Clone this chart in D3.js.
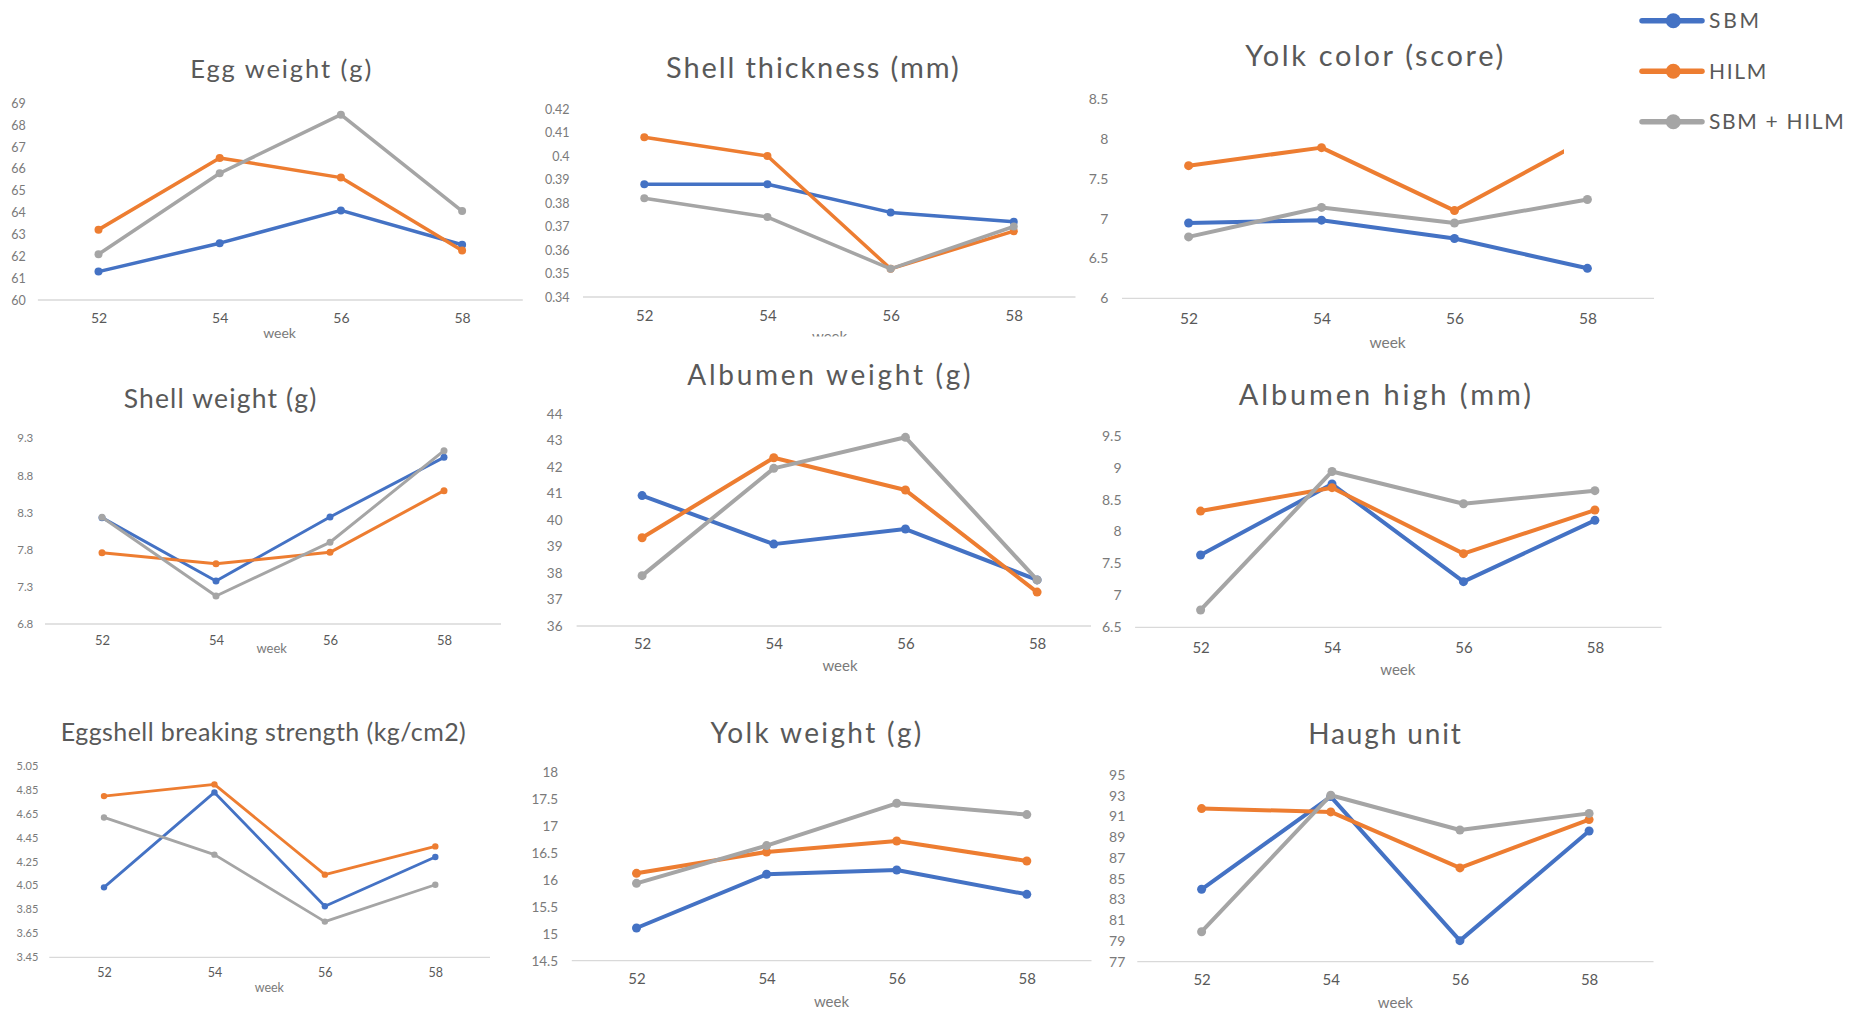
<!DOCTYPE html>
<html>
<head>
<meta charset="utf-8">
<script src="https://cdnjs.cloudflare.com/ajax/libs/d3/7.8.5/d3.min.js"></script>
<style>
  html, body { margin: 0; padding: 0; background: #fff; }
  svg { display: block; font-family: Lato, "Open Sans", sans-serif; }
</style>
</head>
<body>
<svg id="chart" width="1867" height="1013"></svg>
<script>
// ---------- DATA ----------
const weeks = ["52", "54", "56", "58"];
const seriesNames = ["SBM", "HILM", "SBM + HILM"];
const seriesColors = ["#4472C4", "#ED7D31", "#A5A5A5"];
const xAxisTitle = "week";

const titles = [
  "Egg weight (g)", "Shell thickness (mm)", "Yolk color (score)",
  "Shell weight (g)", "Albumen weight (g)", "Albumen high (mm)",
  "Eggshell breaking strength (kg/cm2)", "Yolk weight (g)", "Haugh unit"
];

// each: [SBM, HILM, SBM + HILM]
const eggWeight = [
  [61.3, 62.6, 64.1, 62.53],
  [63.22, 66.5, 65.6, 62.26],
  [62.09, 65.8, 68.48, 64.07]
];
const shellThickness = [
  [0.388, 0.388, 0.376, 0.372],
  [0.408, 0.400, 0.352, 0.368],
  [0.382, 0.374, 0.352, 0.370]
];
const yolkColor = [
  [6.945, 6.98, 6.75, 6.376],
  [7.664, 7.89, 7.10, 8.0],
  [6.77, 7.14, 6.945, 7.24]
];
const shellWeight = [
  [8.232, 7.379, 8.241, 9.044],
  [7.76, 7.612, 7.765, 8.595],
  [8.236, 7.177, 7.90, 9.134]
];
const albumenWeight = [
  [40.92, 39.09, 39.66, 37.74],
  [39.33, 42.35, 41.13, 37.28],
  [37.9, 41.95, 43.12, 37.74]
];
const albumenHigh = [
  [7.632, 8.743, 7.215, 8.175],
  [8.32, 8.686, 7.653, 8.336],
  [6.771, 8.94, 8.435, 8.639]
];
const breakingStrength = [
  [4.034, 4.827, 3.876, 4.287],
  [4.796, 4.894, 4.14, 4.376],
  [4.618, 4.307, 3.748, 4.056]
];
const yolkWeight = [
  [15.107, 16.105, 16.185, 15.733],
  [16.123, 16.52, 16.724, 16.353],
  [15.937, 16.638, 17.424, 17.214]
];
const haughUnit = [
  [83.98, 92.92, 79.03, 89.6],
  [91.76, 91.44, 86.04, 90.7],
  [79.89, 93.05, 89.7, 91.3]
];

// y tick values
const eggWeightTicks = [60, 61, 62, 63, 64, 65, 66, 67, 68, 69];
const shellThicknessTicks = [0.34, 0.35, 0.36, 0.37, 0.38, 0.39, 0.4, 0.41, 0.42];
const yolkColorTicks = [6, 6.5, 7, 7.5, 8, 8.5];
const shellWeightTicks = [6.8, 7.3, 7.8, 8.3, 8.8, 9.3];
const albumenWeightTicks = [36, 37, 38, 39, 40, 41, 42, 43, 44];
const albumenHighTicks = [6.5, 7, 7.5, 8, 8.5, 9, 9.5];
const breakingStrengthTicks = [3.45, 3.65, 3.85, 4.05, 4.25, 4.45, 4.65, 4.85, 5.05];
const yolkWeightTicks = [14.5, 15, 15.5, 16, 16.5, 17, 17.5, 18];
const haughUnitTicks = [77, 79, 81, 83, 85, 87, 89, 91, 93, 95];

const panelData = [eggWeight, shellThickness, yolkColor, shellWeight, albumenWeight,
                   albumenHigh, breakingStrength, yolkWeight, haughUnit];
const panelTicks = [eggWeightTicks, shellThicknessTicks, yolkColorTicks, shellWeightTicks,
                    albumenWeightTicks, albumenHighTicks, breakingStrengthTicks,
                    yolkWeightTicks, haughUnitTicks];

// ---------- LAYOUT (positions / sizes) ----------
const layout = [
  {x52:98.5, x58:462.1, bx0:37.9, bx1:522.8, yTop:103.3, yBot:300, labelRight:25.8, tickFs:12.5, xTickY:323.3, xTickFs:14, titleX:280.7, titleY:77.7, titleFs:25.5, titleW:181, weekX:279.6, weekY:337.7, weekFs:14, lw:3.5, r:4},
  {x52:644.3, x58:1013.8, bx0:583, bx1:1075.5, yTop:109, yBot:297, labelRight:569.6, tickFs:12.5, xTickY:321, xTickFs:15, titleX:812.4, titleY:78.3, titleFs:29, titleW:292.7, weekX:829.6, weekY:341.5, weekFs:15, weekClip:336.5, lw:3.5, r:4},
  {x52:1188.6, x58:1587.4, bx0:1122, bx1:1654, yTop:99, yBot:298.3, labelRight:1108.3, tickFs:14, xTickY:324, xTickFs:15.5, titleX:1374.2, titleY:66, titleFs:29, titleW:258, weekX:1387.6, weekY:348.3, weekFs:15.5, lw:4, r:4.5},
  {x52:102, x58:444, bx0:45, bx1:501, yTop:438.3, yBot:624, labelRight:33.3, tickFs:11.5, xTickY:645, xTickFs:13, titleX:220, titleY:408.3, titleFs:26.5, titleW:192.7, weekX:271.7, weekY:653.3, weekFs:13, lw:3, r:3.5},
  {x52:642.1, x58:1037.1, bx0:576.6, bx1:1091, yTop:414, yBot:626, labelRight:562.5, tickFs:13.5, xTickY:649.3, xTickFs:15, titleX:828.9, titleY:385, titleFs:28, titleW:283.3, weekX:840, weekY:671, weekFs:15, lw:4, r:4.5},
  {x52:1200.6, x58:1594.9, bx0:1135.1, bx1:1661.5, yTop:435.7, yBot:627.3, labelRight:1121.5, tickFs:14, xTickY:652.7, xTickFs:15, titleX:1384.8, titleY:405, titleFs:29, titleW:292.2, weekX:1397.8, weekY:675, weekFs:15, lw:4, r:4.5},
  {x52:104, x58:435.3, bx0:49.3, bx1:490, yTop:765.7, yBot:957.3, labelRight:38.3, tickFs:11, xTickY:976.7, xTickFs:12.5, titleX:263.3, titleY:740.7, titleFs:25, titleW:405, weekX:269.3, weekY:991.7, weekFs:12.5, lw:2.8, r:3.2},
  {x52:636.5, x58:1026.8, bx0:571.8, bx1:1091.5, yTop:772.3, yBot:960.7, labelRight:558.1, tickFs:13.5, xTickY:984, xTickFs:15, titleX:815.9, titleY:742.7, titleFs:28, titleW:210.8, weekX:831.5, weekY:1006.7, weekFs:15, lw:4, r:4.5},
  {x52:1201.6, x58:1589.1, bx0:1137.3, bx1:1653.5, yTop:775, yBot:961.7, labelRight:1125.3, tickFs:14, xTickY:985.3, xTickFs:15, titleX:1384.5, titleY:744, titleFs:28, titleW:152.7, weekX:1395.4, weekY:1008.3, weekFs:15, lw:4, r:4.5}
];
const legendTextW = [50, 57.3, 134.7];

const svg = d3.select("#chart");
const defs = svg.append("defs");

panelData.forEach((series, i) => {
  const L = layout[i];
  const ticks = panelTicks[i];
  const g = svg.append("g");

  const x = d3.scalePoint().domain(weeks).range([L.x52, L.x58]);
  const y = d3.scaleLinear().domain([ticks[0], ticks[ticks.length - 1]]).range([L.yBot, L.yTop]);

  // title
  g.append("text")
    .attr("x", L.titleX).attr("y", L.titleY)
    .attr("text-anchor", "middle")
    .attr("font-size", L.titleFs)
    .attr("fill", "#595959")
    .attr("textLength", L.titleW)
    .attr("lengthAdjust", "spacing")
    .text(titles[i]);

  // baseline
  g.append("line")
    .attr("x1", L.bx0).attr("x2", L.bx1)
    .attr("y1", y(ticks[0])).attr("y2", y(ticks[0]))
    .attr("stroke", "#d9d9d9").attr("stroke-width", 1.3);

  // y axis labels
  const ya = g.append("g")
    .attr("transform", `translate(${L.labelRight},0)`)
    .call(d3.axisLeft(y).tickValues(ticks).tickSize(0).tickPadding(0).tickFormat(d => String(d)));
  ya.select(".domain").remove();
  ya.selectAll("text").attr("font-size", L.tickFs).attr("fill", "#7a7a7a")
    .attr("font-family", "Lato, sans-serif");

  // x axis labels
  const xa = g.append("g")
    .attr("transform", `translate(0,${L.xTickY})`)
    .call(d3.axisBottom(x).tickSize(0).tickPadding(0));
  xa.select(".domain").remove();
  xa.selectAll("text").attr("y", 0).attr("dy", null)
    .attr("font-size", L.xTickFs).attr("fill", "#595959")
    .attr("font-family", "Lato, sans-serif");

  // week label
  const wk = g.append("text")
    .attr("x", L.weekX).attr("y", L.weekY)
    .attr("text-anchor", "middle")
    .attr("font-size", L.weekFs)
    .attr("fill", "#7a7a7a")
    .text(xAxisTitle);
  if (L.weekClip) {
    defs.append("clipPath").attr("id", "wclip" + i)
      .append("rect").attr("x", 0).attr("y", 0).attr("width", 1867).attr("height", L.weekClip);
    wk.attr("clip-path", `url(#wclip${i})`);
  }

  // series
  const line = d3.line().x((d, k) => x(weeks[k])).y(d => y(d));
  series.forEach((vals, s) => {
    g.append("path")
      .datum(vals)
      .attr("d", line)
      .attr("fill", "none")
      .attr("stroke", seriesColors[s])
      .attr("stroke-width", L.lw)
      .attr("stroke-linejoin", "round")
      .attr("stroke-linecap", "round");
    g.selectAll(null)
      .data(vals)
      .enter().append("circle")
      .attr("cx", (d, k) => x(weeks[k]))
      .attr("cy", d => y(d))
      .attr("r", L.r)
      .attr("fill", seriesColors[s]);
  });
});

// ---------- LEGEND ----------
const lg = svg.append("g");
lg.append("rect").attr("x", 1564).attr("y", 0).attr("width", 303).attr("height", 165).attr("fill", "#fff");
const legendY = d3.scalePoint().domain(seriesNames).range([20.7, 121.7]);
seriesNames.forEach((name, s) => {
  const yy = legendY(name);
  lg.append("line")
    .attr("x1", 1642).attr("x2", 1702).attr("y1", yy).attr("y2", yy)
    .attr("stroke", seriesColors[s]).attr("stroke-width", 5.5).attr("stroke-linecap", "round");
  lg.append("circle").attr("cx", 1673.3).attr("cy", yy).attr("r", 7.5).attr("fill", seriesColors[s]);
  lg.append("text")
    .attr("x", 1709).attr("y", yy + 7.6)
    .attr("font-size", 21)
    .attr("fill", "#595959")
    .attr("textLength", legendTextW[s])
    .attr("lengthAdjust", "spacing")
    .text(name);
});
</script>
</body>
</html>
